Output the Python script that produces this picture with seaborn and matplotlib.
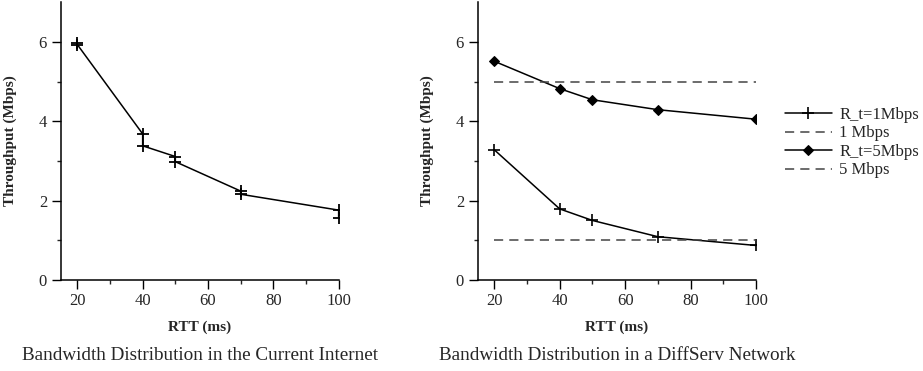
import pandas as pd
import matplotlib
matplotlib.use("Agg")
import matplotlib.pyplot as plt
import seaborn as sns

sns.set_style("ticks")
plt.rcParams['font.family'] = ['Liberation Serif', 'DejaVu Serif']

# left panel: current internet (pairs of runs per RTT)
rtt_left = [20, 20, 40, 40, 50, 50, 70, 70, 100, 100]
thr_left = [5.98, 5.93, 3.68, 3.38, 3.11, 2.98, 2.24, 2.16, 1.76, 1.57]

# right panel: diffserv
rtt = [20, 40, 50, 70, 100]
thr_1mbps = [3.28, 1.79, 1.50, 1.09, 0.87]
thr_5mbps = [5.51, 4.82, 4.54, 4.29, 4.05]
target_x = [20, 100]
target_1 = [1, 1]
target_5 = [5, 5]

yticks = [0, 2, 4, 6]
xticks = [20, 40, 60, 80, 100]

fig = plt.figure(figsize=(9.23, 3.71), dpi=100)
ax1 = fig.add_axes([0.0661, 0.2453, 0.3008, 0.749])
ax2 = fig.add_axes([0.5178, 0.2453, 0.3013, 0.749])

left_df = pd.DataFrame({'rtt': rtt_left, 'thr': thr_left})
sns.lineplot(data=left_df, x='rtt', y='thr', sort=False, estimator=None,
             color='black', lw=1.1, marker='+', ms=8, mew=1.3, mec='black',
             ax=ax1)

sns.lineplot(x=rtt, y=thr_1mbps, color='black', lw=1.1, marker='+', ms=8,
             mew=1.2, mec='black', ax=ax2, label='R_t=1Mbps')
sns.lineplot(x=target_x, y=target_1, color='#444444', lw=1.1, ax=ax2,
             label='1 Mbps')
ax2.lines[-1].set_dashes((6, 4))
sns.lineplot(x=rtt, y=thr_5mbps, color='black', lw=1.1, marker='D', ms=5.5,
             mec='black', mfc='black', ax=ax2, label='R_t=5Mbps')
sns.lineplot(x=target_x, y=target_5, color='#444444', lw=1.1, ax=ax2,
             label='5 Mbps')
ax2.lines[-1].set_dashes((6, 4))

for ax in (ax1, ax2):
    ax.set_xlim(15, 100)
    ax.set_ylim(0, 7)
    ax.set_xticks(xticks)
    ax.set_xticks([30, 50, 70, 90], minor=True)
    ax.set_yticks(yticks)
    ax.set_yticks([1, 3, 5], minor=True)
    ax.tick_params(which='major', direction='out', length=6.5, width=1,
                   labelsize=12, color='black')
    ax.tick_params(which='minor', direction='out', length=3.2, width=1)
    ax.tick_params(axis='x', pad=3)
    sns.despine(ax=ax)
    for s in ('left', 'bottom'):
        ax.spines[s].set_linewidth(1.1)
        ax.spines[s].set_color('black')
    ax.set_xlabel('RTT (ms)', fontsize=11, fontweight='bold')
    ax.set_ylabel('Throughput (Mbps)', fontsize=11, fontweight='bold')
    ax.xaxis.set_label_coords(0.5, -0.145)
    ax.yaxis.set_label_coords(-0.158, 0.5)

leg = ax2.legend(loc='upper left', bbox_to_anchor=(0.8505, 0.712),
                 bbox_transform=fig.transFigure, frameon=False, fontsize=12,
                 borderpad=0, borderaxespad=0, handlelength=2.8,
                 handletextpad=0.45, labelspacing=0.15)

fig.text(200 / 923, 1 - 356 / 371, 'Bandwidth Distribution in the Current Internet',
         ha='center', va='center', fontsize=13.8)
fig.text(617 / 923, 1 - 356 / 371, 'Bandwidth Distribution in a DiffServ Network',
         ha='center', va='center', fontsize=13.8)

fig.savefig('out.png', dpi=100)
